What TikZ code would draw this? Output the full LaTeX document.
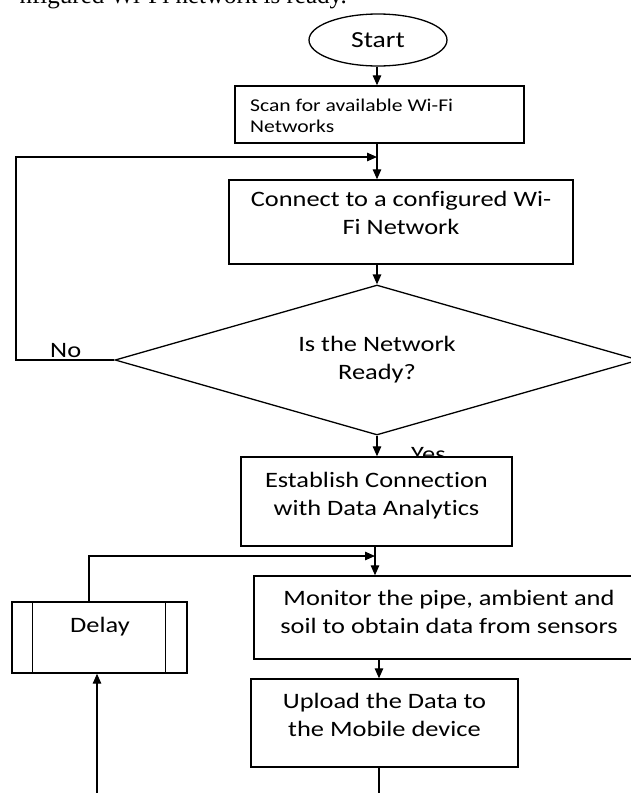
\documentclass[tikz,border=0pt]{standalone}
\usepackage{fontspec}
\setmainfont{Carlito}[FakeStretch=1.2,Ligatures={NoCommon}]
\newfontfamily\bodyserif{Liberation Serif}
\usetikzlibrary{arrows.meta,shapes.geometric}
% two-line text blocks whose reference point is the first baseline
\newcommand{\stackc}[2]{\vtop{\baselineskip=28pt\halign{\hfil##\hfil\cr#1\cr#2\cr}}}
\newcommand{\stackl}[2]{\vtop{\baselineskip=21pt\halign{##\hfil\cr#1\cr#2\cr}}}
\begin{document}
\begin{tikzpicture}[x=1pt,y=-1pt,
  box/.style={draw,line width=1.4pt,fill=white,rectangle,inner sep=0pt},
  txt/.style={inner sep=0pt,anchor=base,font=\fontsize{22}{28}\selectfont},
  flow/.style={line width=1.3pt,-{Triangle[length=10pt,width=8.5pt]}},
  link/.style={line width=1.3pt}]
\useasboundingbox (0,0) rectangle (631,793);
\clip (0,0) rectangle (631,793);

% last line of the running text above the chart
\node[inner sep=0pt,anchor=base east,font=\bodyserif\fontsize{25}{28}\selectfont]
  (caption) at (347,3) {nfigured Wi-Fi network is ready.};

% branch label partly hidden by the box below it
\node[txt,anchor=base west] (yes) at (411,461) {Yes};

% shapes
\node[ellipse,draw,line width=1.3pt,fill=white,inner sep=0pt,
  minimum width=138pt,minimum height=52pt,font=\fontsize{23}{27}\selectfont]
  (start) at (378,40) {Start};
\node[box,minimum width=289pt,minimum height=57pt] (scan) at (379.5,114.5) {};
\node[box,minimum width=344pt,minimum height=84pt] (connect) at (401,222) {};
\node[diamond,draw,line width=1.3pt,fill=white,inner sep=0pt,
  minimum width=524pt,minimum height=150pt] (dia) at (377,360) {};
\node[box,minimum width=271pt,minimum height=89pt] (estab) at (376.5,501.5) {};
\node[box,minimum width=390pt,minimum height=83pt] (monitor) at (449,617.5) {};
\node[box,minimum width=175pt,minimum height=71pt] (delay) at (99.5,637.5) {};
\node[box,minimum width=267pt,minimum height=88pt] (upload) at (384.5,723) {};
\draw[line width=1.4pt] ([xshift=21pt]delay.north west) -- ([xshift=21pt]delay.south west);
\draw[line width=1.4pt] ([xshift=-22pt]delay.north east) -- ([xshift=-22pt]delay.south east);

% texts
\node[inner sep=0pt,anchor=base west,font=\fontsize{18}{21}\selectfont]
  (scantext) at (250,111) {\stackl{Scan for available Wi-Fi}{Networks}};
\node[txt] (connecttext) at (401,206) {\stackc{Connect to a configured Wi-}{Fi Network}};
\node[txt] (diatext) at (377,351) {\stackc{Is the Network}{Ready?}};
\node[txt] (estabtext) at (376.5,487) {\stackc{Establish Connection}{with Data Analytics}};
\node[txt] (monitortext) at (449,605) {\stackc{Monitor the pipe, ambient and}{soil to obtain data from sensors}};
\node[txt] (uploadtext) at (384.5,708) {\stackc{Upload the Data to}{the Mobile device}};
\node[txt] (delaytext) at (100,632) {Delay};
\node[txt,anchor=base west] (no) at (50,357) {No};

% junction points and free ends
\coordinate (m1) at (377,157);
\coordinate (loopL) at (16,360);
\coordinate (m2) at (375,556);
\coordinate (dl) at (89,0);
\coordinate (m3) at (379,0);
\coordinate (exitU) at (379,800);
\coordinate (entD) at (97,800);

% connectors
\draw[flow] (m1 |- start.south) -- (m1 |- scan.north);
\draw[link] (m1 |- scan.south) -- (m1);
\draw[flow] (m1) -- (m1 |- connect.north);
\draw[flow] (m1 |- connect.south) -- (dia.north);
\draw[flow] (dia.west) -- (loopL) |- (m1);
\draw[flow] (dia.south) -- (dia.south |- estab.north);
\draw[link] (m2 |- estab.south) -- (m2);
\draw[flow] (m2) -- (m2 |- monitor.north);
\draw[flow] (delay.north -| dl) |- (m2);
\draw[flow] (monitor.south -| m3) -- (upload.north -| m3);
\draw[link] (upload.south -| exitU) -- (exitU);
\draw[flow] (entD) -- (entD |- delay.south);
\end{tikzpicture}
\end{document}
